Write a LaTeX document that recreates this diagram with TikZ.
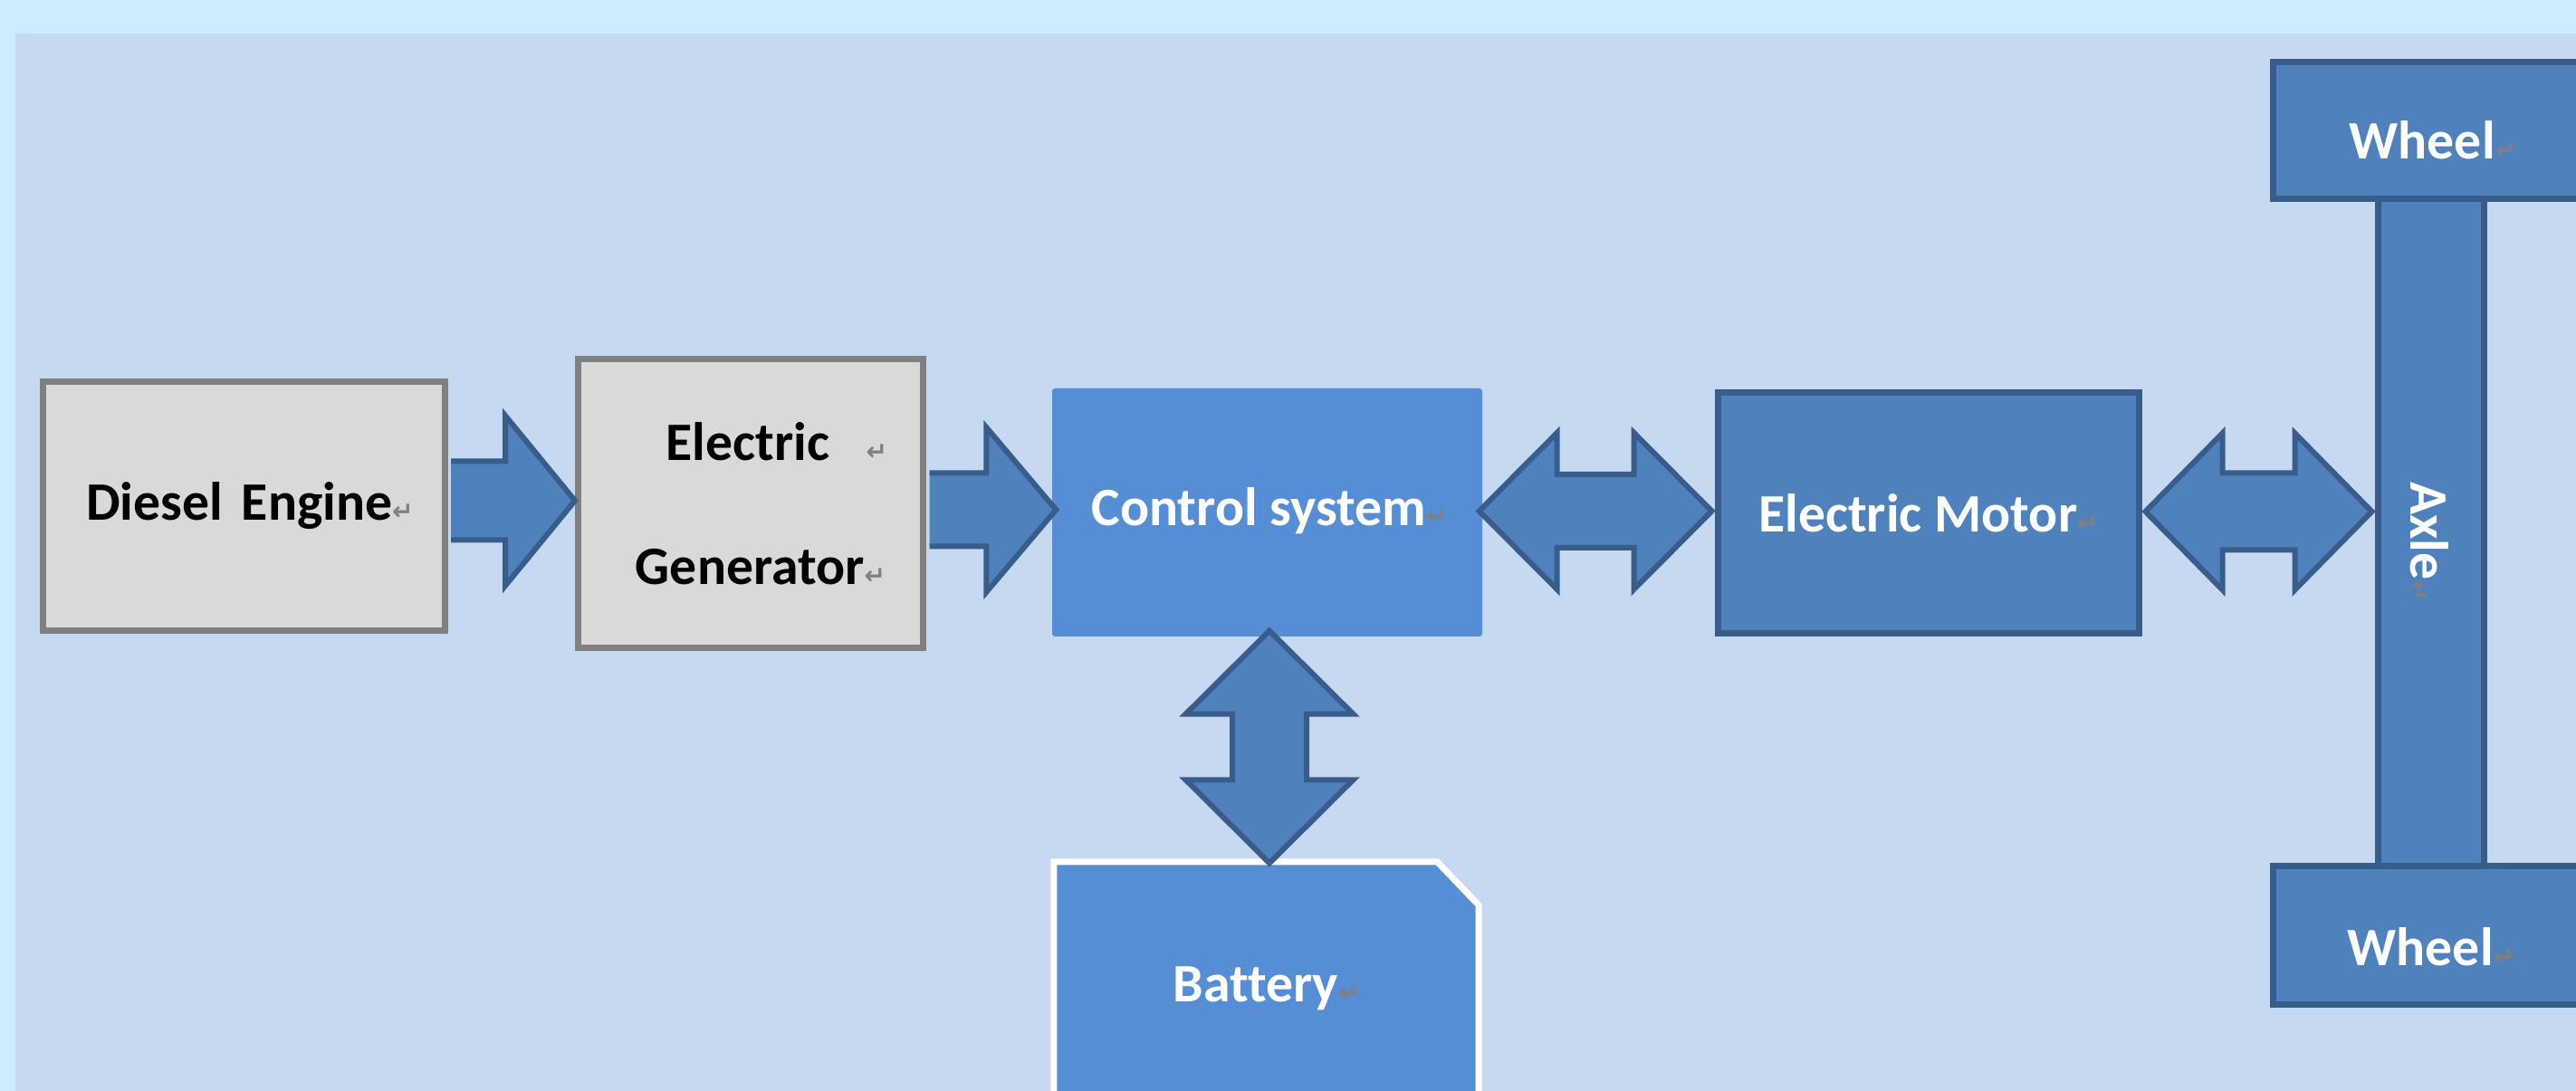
\documentclass[tikz,border=0pt]{standalone}
\usepackage{fontspec}
\setmainfont{Carlito}[Ligatures=NoCommon]
\newfontfamily\dejavu{DejaVu Sans}
\usetikzlibrary{calc,backgrounds}
\definecolor{outerbg}{HTML}{CCECFF}
\definecolor{innerbg}{HTML}{C6D9F1}
\definecolor{greyfill}{HTML}{D9D9D9}
\definecolor{greyline}{HTML}{808080}
\definecolor{ltblue}{HTML}{558ED5}
\definecolor{midblue}{HTML}{4F81BD}
\definecolor{darkblue}{HTML}{385D8A}
\newcommand{\rmk}{{\dejavu\fontsize{8}{8}\selectfont\textcolor{greyline}{↵}}}
\tikzset{
  txt/.style={font=\fontsize{17}{20}\selectfont\bfseries},
  greybox/.style={draw=greyline, fill=greyfill, line width=0.07cm, inner sep=0pt, txt, text=black},
  bluebox/.style={draw=darkblue, fill=midblue, line width=0.07cm, inner sep=0pt, txt, text=white},
  lightbox/.style={fill=ltblue, inner sep=0pt, rounded corners=0.03cm, txt, text=white},
  arrowline/.style={draw=darkblue, line width=0.06cm, line join=miter},
}
\newcommand{\singlearrowR}[5]{%
  \fill[midblue] let \p1=(#1), \p2=(#2) in (\x1,\y1+#3) -- (\x2-#5,\y1+#3) -- (\x2-#5,\y1+#4) -- (\x2,\y1) -- (\x2-#5,\y1-#4) -- (\x2-#5,\y1-#3) -- (\x1,\y1-#3) -- cycle;
  \draw[arrowline] let \p1=(#1), \p2=(#2) in (\x1,\y1+#3) -- (\x2-#5,\y1+#3) -- (\x2-#5,\y1+#4) -- (\x2,\y1) -- (\x2-#5,\y1-#4) -- (\x2-#5,\y1-#3) -- (\x1,\y1-#3);}
\newcommand{\doublearrowH}[5]{%
  \draw[arrowline, fill=midblue] let \p1=(#1), \p2=(#2) in (\x1,\y1) -- (\x1+#5,\y1+#4) -- (\x1+#5,\y1+#3) -- (\x2-#5,\y1+#3) -- (\x2-#5,\y1+#4) -- (\x2,\y1) -- (\x2-#5,\y1-#4) -- (\x2-#5,\y1-#3) -- (\x1+#5,\y1-#3) -- (\x1+#5,\y1-#4) -- cycle;}
\newcommand{\doublearrowV}[5]{%
  \draw[arrowline, fill=midblue] let \p1=(#1), \p2=(#2) in (\x1,\y1) -- (\x1+#4,\y1-#5) -- (\x1+#3,\y1-#5) -- (\x1+#3,\y2+#5) -- (\x1+#4,\y2+#5) -- (\x1,\y2) -- (\x1-#4,\y2+#5) -- (\x1-#3,\y2+#5) -- (\x1-#3,\y1-#5) -- (\x1-#4,\y1-#5) -- cycle;}
\begin{document}
\begin{tikzpicture}
\useasboundingbox (0,0) rectangle (28.45,-12.05);
\clip (0,0) rectangle (28.45,-12.05);
\begin{scope}[on background layer]
\fill[outerbg] (0,0) rectangle (28.45,-12.05);
\fill[innerbg] (0.17,-0.37) rectangle (28.6,-12.2);
\end{scope}

% boxes
\node[greybox, minimum width=4.44cm, minimum height=2.75cm] (de) at (2.69,-5.59) {};
\node[txt, text=black] (det) at (2.76,-5.59) {Diesel\hspace{0.12em} Engine\rmk};
\node[greybox, minimum width=3.81cm, minimum height=3.19cm] (gen) at (8.29,-5.56) {};
\node[align=center, font=\fontsize{17}{39}\selectfont\bfseries, text=black] (gent) at (8.40,-5.56) {\hspace{0.6em}Electric \ \ \rmk\\Generator\rmk};
\node[lightbox, minimum width=4.75cm, minimum height=2.74cm] (cs) at (13.995,-5.66) {};
\node[txt, text=white] (cst) at (14.02,-5.64) {Control system\rmk};
\node[bluebox, minimum width=4.65cm, minimum height=2.66cm] (em) at (21.30,-5.665) {Electric Motor\rmk};
\node[bluebox, minimum width=1.17cm, minimum height=7.37cm] (axle) at (26.85,-5.88) {};
\node[txt, text=white, rotate=-90] (axlet) at (26.83,-5.98) {Axle\rmk};
\node[bluebox, minimum width=3.49cm, minimum height=1.51cm] (w1) at (26.85,-1.44) {};
\node[txt, text=white] (w1t) at (26.87,-1.55) {Wheel\rmk};
\node[bluebox, minimum width=3.49cm, minimum height=1.53cm] (w2) at (26.85,-10.33) {};
\node[txt, text=white] (w2t) at (26.85,-10.46) {Wheel\rmk};

% battery
\node[inner sep=0pt, minimum width=4.68cm, minimum height=2.78cm, txt, text=white] (bat) at (13.985,-10.915) {Battery\rmk};
\begin{scope}[on background layer]
\draw[draw=white, fill=ltblue, line width=0.07cm, line join=miter]
  (bat.south west) -- (bat.north west) -- ($(bat.north east)+(-0.46,0)$) -- ($(bat.north east)+(0,-0.48)$) -- (bat.south east) -- cycle;
\end{scope}

% connectors
\coordinate (a1s) at ($(de.east |- 0,-5.53)+(0.035,0)$);
\coordinate (a1e) at (gen.west |- 0,-5.53);
\coordinate (a2s) at ($(gen.east |- 0,-5.63)+(0.035,0)$);
\coordinate (a2e) at ($(cs.west |- 0,-5.63)+(0.05,0)$);
\coordinate (a3s) at ($(cs.east |- 0,-5.645)+(-0.04,0)$);
\coordinate (a3e) at ($(em.west |- 0,-5.645)+(-0.035,0)$);
\coordinate (a4s) at ($(em.east |- 0,-5.65)+(0.035,0)$);
\coordinate (a4e) at ($(axle.west |- 0,-5.65)+(-0.035,0)$);
\coordinate (a5s) at ($(cs.south)+(0.025,0.07)$);
\coordinate (a5e) at ($(bat.north)+(0.025,-0.015)$);

\singlearrowR{a1s}{a1e}{0.435cm}{0.94cm}{0.77cm}
\singlearrowR{a2s}{a2e}{0.405cm}{0.91cm}{0.77cm}
\doublearrowH{a3s}{a3e}{0.405cm}{0.865cm}{0.86cm}
\doublearrowH{a4s}{a4e}{0.425cm}{0.865cm}{0.85cm}
\doublearrowV{a5s}{a5e}{0.41cm}{0.925cm}{0.92cm}
\end{tikzpicture}
\end{document}
